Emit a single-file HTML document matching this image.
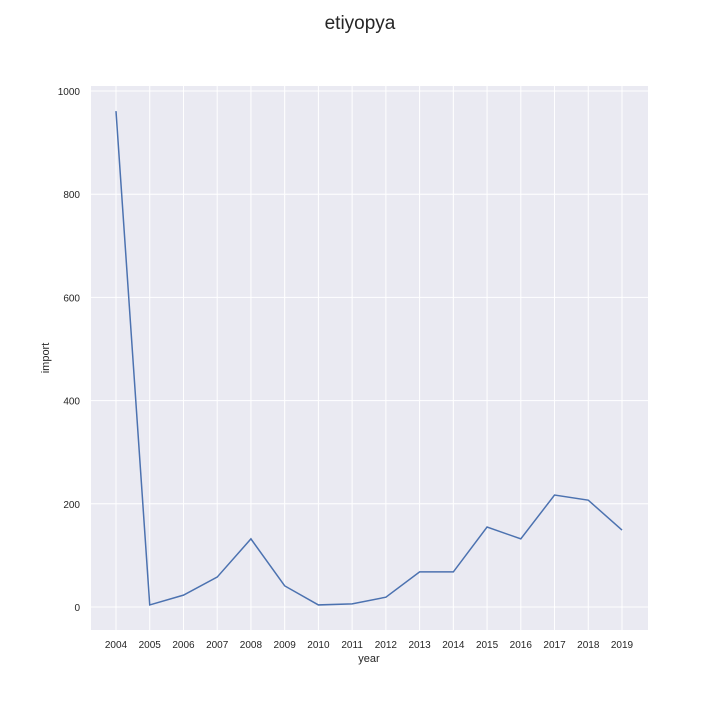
<!DOCTYPE html>
<html><head><meta charset="utf-8"><style>
body{margin:0;background:#fff;}
svg text{font-family:"Liberation Sans",sans-serif;fill:#262626;}
</style></head><body>
<svg id="chart" width="720" height="720">
<text x="360" y="29" font-size="19" text-anchor="middle">etiyopya</text>
<rect x="91" y="86" width="557" height="544" fill="#eaeaf2"/>
<g id="grid"></g><g id="ticks"></g>
<path id="line" fill="none" stroke="#4c72b0" stroke-width="1.5"/>
<text x="369" y="662" font-size="11" text-anchor="middle">year</text>
<text x="49" y="358" font-size="11" text-anchor="middle" transform="rotate(-90 49 358)">import</text>
</svg>
<script>
const years=[2004,2005,2006,2007,2008,2009,2010,2011,2012,2013,2014,2015,2016,2017,2018,2019];
const imports=[961,4,23,58,132,41,4,6,19,68,68,155,132,217,207,149];
const yTicks=[0,200,400,600,800,1000];
const ns="http://www.w3.org/2000/svg";
const xs=v=>116+(v-2004)*(506/15);
const ys=v=>607-v*0.516;
const grid=document.getElementById('grid'),ticks=document.getElementById('ticks');
function mk(tag,attrs,parent){const e=document.createElementNS(ns,tag);for(const k in attrs)e.setAttribute(k,attrs[k]);parent.appendChild(e);return e;}
years.forEach(y=>{
 const l=mk('line',{x1:xs(y),x2:xs(y),y1:86,y2:630,stroke:'#fff','stroke-width':1},grid);
 
 
 const t=mk('text',{x:xs(y),y:648,'font-size':10,'text-anchor':'middle'},ticks);t.textContent=y;
 
 
});
yTicks.forEach(v=>{
 const l=mk('line',{x1:91,x2:648,y1:ys(v),y2:ys(v),stroke:'#fff','stroke-width':1},grid);
 
 
 const t=mk('text',{x:80,y:ys(v)+4,'font-size':10,'text-anchor':'end'},ticks);t.textContent=v;
 
 
});
document.getElementById('line').setAttribute('d',years.map((y,i)=>(i?'L':'M')+xs(y)+','+ys(imports[i])).join(''));
</script>
</body></html>
